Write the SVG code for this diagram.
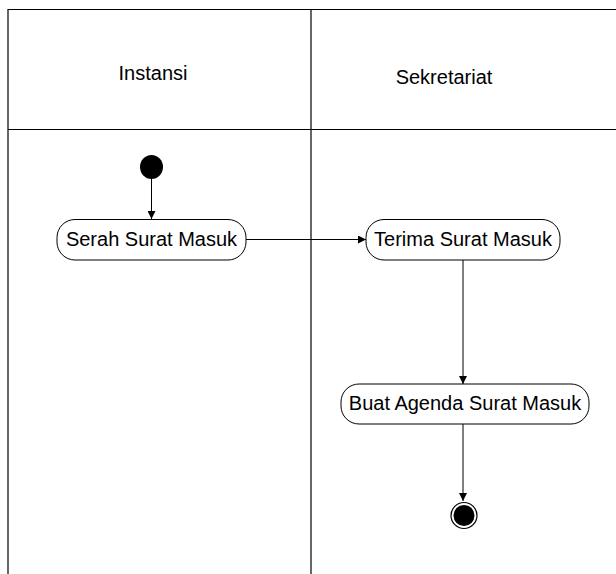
<svg xmlns="http://www.w3.org/2000/svg" width="616" height="574" viewBox="0 0 616 574">
<style>
.lane{stroke:#000;stroke-width:1.2;fill:none}
.node rect{fill:#fff;stroke:#000;stroke-width:1}
.label{font-family:"Liberation Sans",Arial,sans-serif;font-size:20px;fill:#000;text-anchor:middle}
.conn{stroke:#000;stroke-width:1;fill:none;marker-end:url(#arrow)}
</style>
<defs>
<marker id="arrow" markerWidth="8" markerHeight="8" refX="8" refY="4" orient="auto" markerUnits="userSpaceOnUse">
<path d="M0,0 L8,4 L0,8 Z" fill="#000"/>
</marker>
</defs>
<rect width="616" height="574" fill="#fff"/>
<g id="swimlanes">
<line class="lane" x1="8" y1="9.5" x2="616" y2="9.5"/>
<line class="lane" x1="8" y1="129.5" x2="616" y2="129.5"/>
<line class="lane" x1="8" y1="9" x2="8" y2="574" stroke="#666"/>
<line class="lane" x1="311" y1="9" x2="311" y2="574"/>
<text class="label" x="153" y="80">Instansi</text>
<text class="label" x="444" y="84">Sekretariat</text>
</g>
<g id="connectors">
<line class="conn" x1="151.5" y1="179" x2="151.5" y2="219"/>
<line class="conn" x1="246" y1="239.5" x2="366" y2="239.5"/>
<line class="conn" x1="463" y1="260" x2="463" y2="384"/>
<line class="conn" x1="463" y1="424" x2="463" y2="501"/>
</g>
<g id="start">
<ellipse cx="151.5" cy="167" rx="11.5" ry="12" fill="#000"/>
</g>
<g id="serah" class="node">
<rect x="57" y="219.5" width="189" height="40.5" rx="18" ry="18"/>
<text class="label" x="151.5" y="246">Serah Surat Masuk</text>
</g>
<g id="terima" class="node">
<rect x="366" y="219.5" width="194" height="40.5" rx="18" ry="18"/>
<text class="label" x="463" y="246">Terima Surat Masuk</text>
</g>
<g id="buat" class="node">
<rect x="341" y="384" width="248" height="40" rx="18" ry="18"/>
<text class="label" x="465" y="410">Buat Agenda Surat Masuk</text>
</g>
<g id="end">
<circle cx="464" cy="515.5" r="13" fill="#fff" stroke="#000" stroke-width="1.2"/>
<circle cx="464" cy="515.5" r="10.5" fill="#000"/>
</g>
</svg>
